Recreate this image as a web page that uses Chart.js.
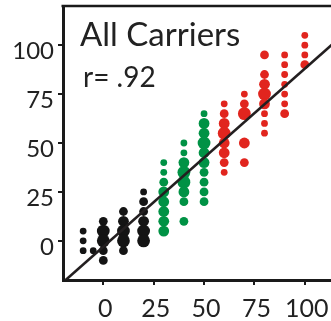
<!DOCTYPE html>
<html>
<head>
<meta charset="utf-8">
<script src="https://cdn.jsdelivr.net/npm/chart.js@4.4.1/dist/chart.umd.min.js"></script>
<style>
  html, body { margin: 0; padding: 0; background: #fff; overflow: hidden; }
  canvas { display: block; }
</style>
</head>
<body>
<canvas id="c" width="331" height="321"></canvas>
<script>
// Predicted (x) vs observed (y) values; n = observations stacked on the same spot
const blackX = [-10, -10, -10, -5, 0, 0, 0, 0, 0, 10, 10, 10, 10, 10, 20, 20, 20, 20, 20, 20];
const blackY = [5, 0, -5, -5, 10, 5, 0, -5, -10, 15, 10, 5, 0, -5, 25, 20, 15, 10, 5, 0];
const blackN = [1, 1, 1, 1, 2, 4, 4, 2, 2, 2, 3, 4, 4, 2, 1, 2, 2, 3, 4, 4];

const greenX = [30, 30, 30, 30, 30, 30, 30, 30, 40, 40, 40, 40, 40, 40, 40, 40, 50, 50, 50, 50, 50, 50, 50, 50, 50, 50];
const greenY = [40, 35, 30, 25, 20, 15, 10, 5, 50, 45, 40, 35, 30, 25, 20, 10, 65, 60, 55, 50, 45, 40, 35, 30, 25, 20];
const greenN = [1, 1, 2, 3, 3, 3, 3, 3, 1, 1, 3, 4, 4, 3, 2, 2, 1, 3, 3, 4, 3, 3, 2, 2, 2, 2];

const redX = [60, 60, 60, 60, 60, 60, 60, 60, 70, 70, 70, 70, 70, 80, 80, 80, 80, 80, 80, 80, 80, 90, 90, 90, 90, 90, 90, 90, 100, 100, 100, 100];
const redY = [70, 65, 60, 55, 50, 45, 40, 35, 75, 70, 65, 50, 40, 95, 85, 80, 75, 70, 65, 60, 55, 95, 90, 85, 80, 75, 70, 65, 105, 100, 95, 90];
const redN = [1, 2, 3, 4, 3, 3, 2, 1, 1, 2, 4, 3, 2, 2, 2, 3, 4, 3, 1, 1, 1, 1, 1, 1, 1, 1, 1, 2, 1, 1, 1, 2];

const tickValues = [0, 25, 50, 75, 100];
const chartTitle = 'All Carriers';
const corrLabel = 'r= .92';
const fitSlope = 0.91;
const fitIntercept = -3;

const X_MIN = -20, X_MAX = 113, Y_MIN = -20, Y_MAX = 120;
const INK = '#1a1a1a';
const FONT = 'Lato, "Open Sans", sans-serif';

function bubbles(xs, ys, ns) {
  return xs.map((x, i) => ({ x: x, y: ys[i], r: 2.4 + ns[i] }));
}

const frameAndText = {
  id: 'frameAndText',
  afterDraw(chart) {
    const { ctx, chartArea: a } = chart;
    ctx.save();
    // closing line along the top of the plot area
    ctx.strokeStyle = INK;
    ctx.lineWidth = 2.4;
    ctx.beginPath();
    ctx.moveTo(a.left - 1.5, a.top);
    ctx.lineTo(a.right, a.top);
    ctx.stroke();
    ctx.fillStyle = '#222';
    ctx.textBaseline = 'alphabetic';
    ctx.textAlign = 'left';
    ctx.font = '33px ' + FONT;
    ctx.fillText(chartTitle, a.left + 17, a.top + 40);
    ctx.font = '28px ' + FONT;
    ctx.fillText(corrLabel, a.left + 20, a.top + 81);
    ctx.restore();
  }
};

function axisStyle(extra) {
  return Object.assign({
    type: 'linear',
    grid: { display: true, drawOnChartArea: false, drawTicks: true, tickLength: 5, color: INK, lineWidth: 2 },
    border: { display: true, color: INK, width: 3 },
    afterBuildTicks: s => { s.ticks = tickValues.map(v => ({ value: v })); }
  }, extra);
}

function draw() {
  new Chart(document.getElementById('c'), {
    type: 'bubble',
    data: {
      datasets: [
        {
          type: 'line',
          order: 0,
          data: [X_MIN, X_MAX + 10].map(x => ({ x: x, y: fitIntercept + fitSlope * x })),
          borderColor: '#231f20',
          borderWidth: 2.6,
          pointRadius: 0,
          fill: false
        },
        { order: 1, data: bubbles(blackX, blackY, blackN), backgroundColor: '#141414', borderWidth: 0 },
        { order: 1, data: bubbles(greenX, greenY, greenN), backgroundColor: '#009245', borderWidth: 0 },
        { order: 1, data: bubbles(redX, redY, redN), backgroundColor: '#e1251e', borderWidth: 0 }
      ]
    },
    options: {
      responsive: false,
      animation: false,
      events: [],
      layout: { autoPadding: false, padding: { top: 6, left: 0, right: 0, bottom: 0 } },
      plugins: { legend: { display: false }, tooltip: { enabled: false }, title: { display: false } },
      scales: {
        x: axisStyle({
          position: 'bottom',
          min: X_MIN, max: X_MAX,
          ticks: { font: { family: FONT, size: 25 }, color: '#222', padding: 9, labelOffset: 2, maxRotation: 0, autoSkip: false },
          afterFit: s => { s.height = 41; s.paddingLeft = 0; s.paddingRight = 0; }
        }),
        y: axisStyle({
          position: 'left',
          min: Y_MIN, max: Y_MAX,
          ticks: { font: { family: FONT, size: 24 }, color: '#222', padding: 4, labelOffset: 6.5, autoSkip: false },
          afterFit: s => { s.width = 63; s.paddingTop = 0; s.paddingBottom = 0; }
        })
      }
    },
    plugins: [frameAndText]
  });
}

if (document.fonts && document.fonts.load) {
  Promise.all([document.fonts.load('24px Lato'), document.fonts.load('33px Lato')]).then(draw, draw);
} else {
  draw();
}
</script>
</body>
</html>
